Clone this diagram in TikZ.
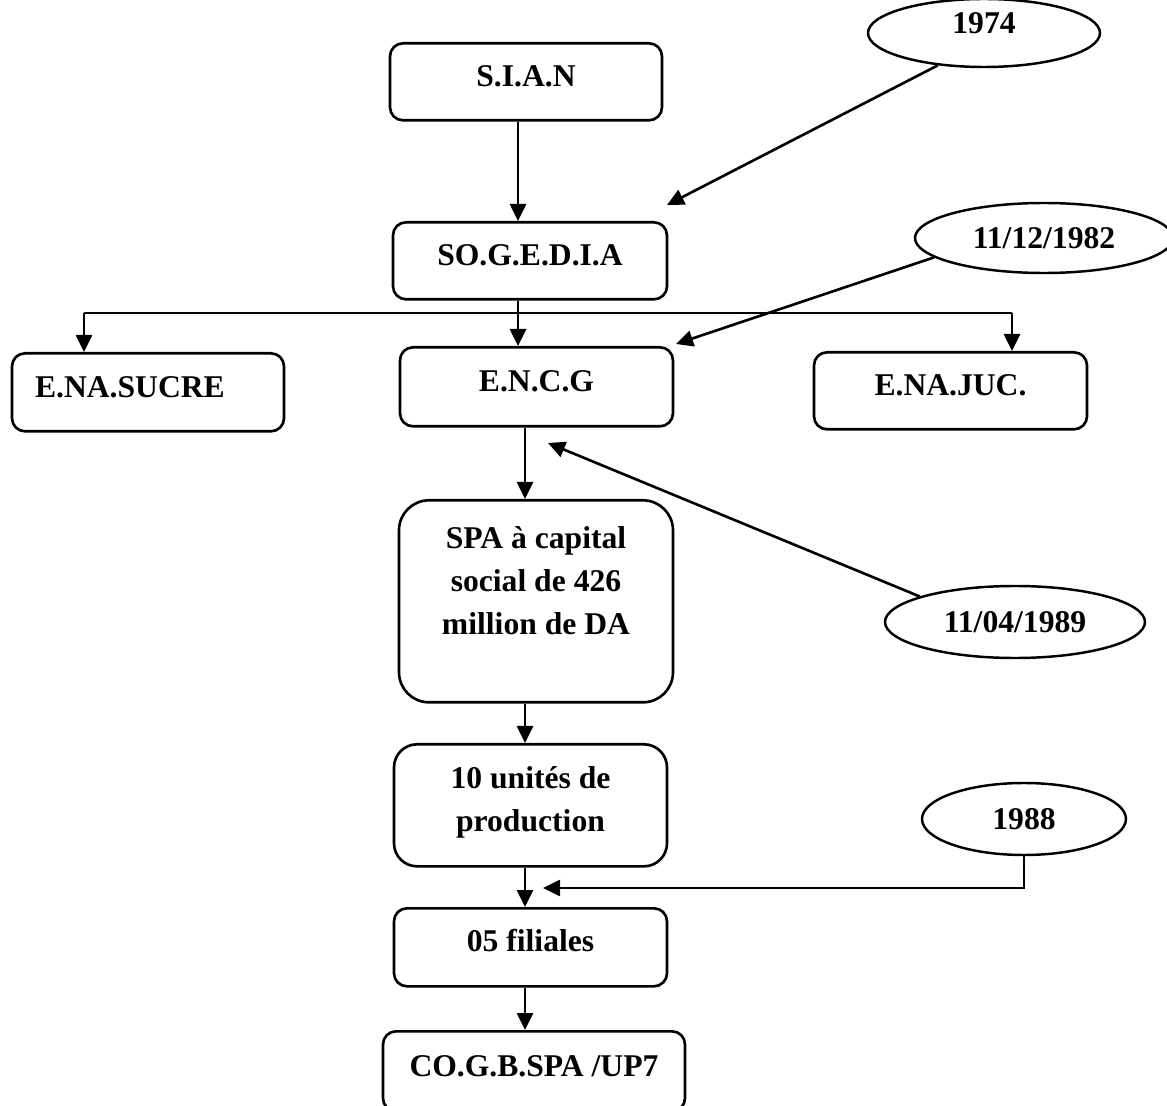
\documentclass[tikz,border=0pt]{standalone}
\usepackage{fontspec}
\setmainfont{Liberation Serif}
\usetikzlibrary{arrows.meta,shapes.geometric}

\tikzset{%
  box/.style={draw, line width=1.5pt, rounded corners=0.26cm, anchor=north,%
    inner xsep=0pt, inner ysep=0pt, align=center,%
    font=\fontsize{18}{24.5}\selectfont\bfseries},%
  date/.style={draw, ellipse, line width=1.4pt, inner sep=0pt,%
    font=\fontsize{18}{22}\selectfont\bfseries},%
  arr/.style={-{Triangle[length=0.34cm,width=0.32cm]}, line width=1.5pt}}

\begin{document}
\begin{tikzpicture}
  \useasboundingbox (0,0) rectangle (23.34,-22.12);
  \coordinate (c1) at (10.36,0);
  \coordinate (c2) at (10.50,0);
  \coordinate (busL) at (1.68,-6.26);
  \coordinate (busR) at (20.24,-6.26);
  \coordinate (t74) at (13.34,-4.10);
  \coordinate (t82) at (13.52,-6.88);
  \coordinate (t89) at (10.96,-8.86);
  \coordinate (t88) at (10.86,-17.76);

  % boxes
  \node[box, minimum width=5.44cm, text height=0.86cm, text depth=0.68cm] (sian) at (10.52,-0.84) {S.I.A.N};
  \node[box, minimum width=5.48cm, text height=0.86cm, text depth=0.68cm] (sogedia) at (10.60,-4.42) {SO.G.E.D.I.A};
  \node[box, minimum width=5.46cm, text height=0.88cm, text depth=0.70cm] (encg) at (10.73,-6.92) {E.N.C.G};
  \node[box, text width=4.52cm, inner xsep=0.46cm, align=left, text height=0.88cm, text depth=0.68cm] (sucre) at (2.96,-7.04) {E.NA.SUCRE};
  \node[box, minimum width=5.46cm, text height=0.86cm, text depth=0.68cm] (juc) at (19.01,-7.02) {E.NA.JUC.};
  \node[box, minimum width=5.48cm, rounded corners=0.6cm, text height=2.68cm, text depth=1.36cm] (spa) at (10.72,-9.98) {SPA à capital\\social de 426\\million de DA};
  \node[box, minimum width=5.46cm, rounded corners=0.46cm, text height=1.74cm, text depth=0.70cm] (units) at (10.61,-14.86) {10 unités de\\production};
  \node[box, minimum width=5.46cm, text height=0.86cm, text depth=0.70cm] (filiales) at (10.61,-18.14) {05 filiales};
  \node[box, minimum width=6.04cm, text height=0.90cm, text depth=0.70cm] (cogb) at (10.68,-20.60) {CO.G.B.SPA /UP7};

  % dates
  \node[date, minimum width=4.64cm, minimum height=1.36cm, text depth=0.4cm] (y1974) at (19.68,-0.66) {1974};
  \node[date, minimum width=5.16cm, minimum height=1.40cm] (y1982) at (20.88,-4.76) {11/12/1982};
  \node[date, minimum width=5.20cm, minimum height=1.44cm] (y1989) at (20.30,-12.44) {11/04/1989};
  \node[date, minimum width=4.08cm, minimum height=1.44cm] (y1988) at (20.48,-16.38) {1988};

  % connectors
  \draw[arr] (sian.south -| c1) -- (sogedia.north -| c1);
  \draw[arr] (sogedia.south -| c1) -- (encg.north -| c1);
  \draw[line width=1.5pt] (busL) -- (busR);
  \draw[arr] (busL) -- (busL |- sucre.north);
  \draw[arr] (busR) -- (busR |- juc.north);
  \draw[arr] (encg.south -| c2) -- (spa.north -| c2);
  \draw[arr] (spa.south -| c2) -- (units.north -| c2);
  \draw[arr] (units.south -| c2) -- (filiales.north -| c2);
  \draw[arr] (filiales.south -| c2) -- (cogb.north -| c2);
  \draw[arr] (y1974.215) -- (t74);
  \draw[arr] (y1982.190) -- (t82);
  \draw[arr] (y1989.165) -- (t89);
  \draw[arr] (y1988.south) |- (t88);
\end{tikzpicture}
\end{document}
